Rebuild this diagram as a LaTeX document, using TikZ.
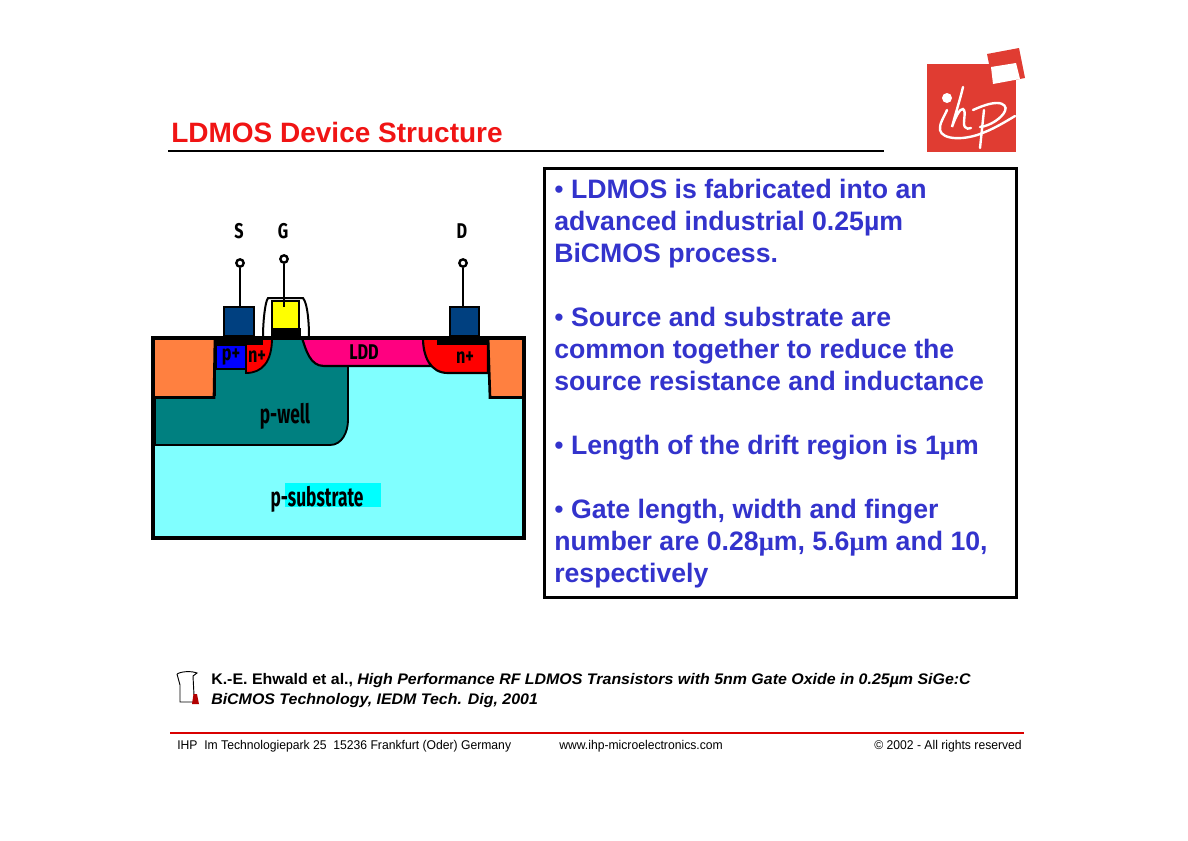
\documentclass[tikz,border=0pt]{standalone}
\usepackage{fontspec}
\setmainfont{Liberation Sans}
\newfontfamily\symbfont{Liberation Serif}
\newfontfamily\devfont{Fira Sans}
\usepackage{xcolor}
\usetikzlibrary{calc}

\definecolor{ihpred}{RGB}{224,60,50}
\definecolor{titlered}{RGB}{240,20,20}
\definecolor{bodyblue}{RGB}{51,51,204}
\definecolor{subcyan}{RGB}{128,255,255}
\definecolor{hotcyan}{RGB}{0,255,255}
\definecolor{wellteal}{RGB}{0,128,128}
\definecolor{oxorange}{RGB}{255,128,64}
\definecolor{lddpink}{RGB}{255,0,128}
\definecolor{metalblue}{RGB}{0,64,128}
\definecolor{gateyellow}{RGB}{255,255,0}

\newcommand{\umu}{{\symbfont\bfseries μ}}
\newcommand{\bul}{{\mdseries •}}

\tikzset{
  txt/.style={inner sep=0pt, anchor=base west},
  devlabel/.style={inner sep=0pt, font=\devfont\bfseries\fontsize{16}{16}\selectfont, xscale=0.76, transform shape},
  biglabel/.style={inner sep=0pt, font=\devfont\bfseries\fontsize{20}{20}\selectfont, xscale=0.65, transform shape},
  termlabel/.style={inner sep=0pt, font=\devfont\bfseries\fontsize{16}{16}\selectfont, xscale=0.76, transform shape},
  footer/.style={txt, font=\fontsize{9.5}{11}\selectfont, xscale=0.96, transform shape},
  term/.style={circle, fill=white, draw=black, line width=1.8pt, inner sep=0pt, minimum size=5.5pt},
  logopen/.style={white, line width=1.8pt, line cap=round}
}

\begin{document}
\begin{tikzpicture}[x=0.75pt, y=-0.75pt]
  \useasboundingbox (0, 0) rectangle (1188, 840);

  % title
  \node[txt, text=titlered, font=\bfseries\fontsize{21}{24}\selectfont] (title) at (171, 142) {LDMOS Device Structure};
  \draw[black, line width=1.5pt] (168, 150.5) -- (884, 150.5);

  % logo
  \fill[ihpred] (927, 64) rectangle (1016, 152);
  \fill[ihpred] (987, 54) -- (1019, 48) -- (1025, 78) -- (993, 84) -- cycle;
  \fill[white] (991, 67) -- (1016, 63) -- (1020, 79) -- (993, 84) -- cycle;
  \fill[white] (947, 98) circle (5);
  \draw[logopen] (947, 110) .. controls (944, 117) and (939, 124) .. (940, 130) .. controls (942, 140) and (965, 141) .. (985, 132) .. controls (995, 128) and (1005, 122) .. (1015, 116);
  \draw[logopen] (963, 87) .. controls (960, 100) and (955, 115) .. (952, 127) .. controls (955, 118) and (960, 108) .. (963, 109) .. controls (967, 111) and (962, 124) .. (965, 127) .. controls (966, 129) and (969, 129) .. (971, 128);
  \draw[logopen] (984, 110) -- (980, 148);
  \draw[logopen] (973, 110) .. controls (982, 106) and (990, 103) .. (997, 103) .. controls (1004, 103) and (1007, 107) .. (1005, 111) .. controls (1002, 118) and (990, 126) .. (980, 127);

  % device: substrate and well
  \fill[subcyan] (153, 338) rectangle (524, 538);
  \fill[hotcyan] (285, 483) rectangle (381, 507);
  \draw[black, line width=1.4pt, fill=wellteal] (155, 395) -- (155, 445) -- (330, 445) .. controls (342, 445) and (348, 432) .. (348, 420) -- (348, 338) -- (215, 338) -- (215, 395) -- cycle;

  % oxide blocks
  \draw[black, line width=2pt, fill=oxorange] (153, 338) -- (215, 338) -- (214, 397.5) -- (153, 397.5) -- cycle;
  \draw[black, line width=2pt, fill=oxorange] (524, 338) -- (488, 338) -- (490, 397.5) -- (524, 397.5) -- cycle;

  % implants
  \draw[black, line width=1.6pt, fill=lddpink] (302, 338) .. controls (306, 350) and (310, 366) .. (324, 366) -- (430, 366) -- (430, 338) -- cycle;
  \draw[black, line width=1.6pt, fill=red] (423, 338) .. controls (423, 356) and (430, 373) .. (448, 373) -- (488, 373) -- (488, 338) -- cycle;
  \draw[black, line width=1.4pt, fill=blue] (216, 345) rectangle (246, 369);
  \draw[black, line width=1.4pt, fill=red] (246, 338) -- (246, 373) .. controls (262, 373) and (272, 362) .. (272, 338) -- cycle;

  % outer frame and contacts
  \draw[black, line width=3pt] (153, 338) rectangle (524, 538);
  \fill[black] (216, 338) rectangle (263, 345);
  \fill[black] (437, 338) rectangle (488, 345);
  \draw[black, line width=1.4pt, fill=metalblue] (224, 307) rectangle (254, 336);
  \draw[black, line width=1.4pt, fill=metalblue] (450, 307) rectangle (479, 336);

  % gate
  \draw[black, line width=1.5pt] (263, 337) .. controls (263, 322) and (265, 302) .. (268, 298) -- (303, 298) .. controls (308, 304) and (309, 325) .. (309, 337);
  \fill[black] (271, 328) rectangle (301, 338);
  \draw[black, line width=1.2pt, fill=gateyellow] (272, 301) rectangle (299, 329);

  % terminals
  \node[term] (sterm) at (240, 263) {};
  \node[term] (gterm) at (284, 259) {};
  \node[term] (dterm) at (463, 263) {};
  \coordinate (scontact) at (240, 307);
  \coordinate (gcontact) at (284, 307);
  \coordinate (dcontact) at (463, 307);
  \draw[black, line width=1.5pt] (sterm) -- (scontact);
  \draw[black, line width=1.5pt] (gterm) -- (gcontact);
  \draw[black, line width=1.5pt] (dterm) -- (dcontact);

  \node[termlabel] (slabel) at (239, 231) {S};
  \node[termlabel] (glabel) at (283, 231) {G};
  \node[termlabel] (dlabel) at (462, 231) {D};
  \node[devlabel] (pplus) at (231, 357) {p+};
  \node[devlabel] (nplusa) at (257, 357) {n+};
  \node[devlabel] (nplusb) at (465, 358) {n+};
  \node[devlabel] (ldd) at (364, 352) {LDD};
  \node[biglabel] (pwell) at (285, 416) {p-well};
  \node[biglabel] (psub) at (317, 499) {p-substrate};

  % text box
  \draw[black, line width=2.2pt] (544.5, 168.5) rectangle (1016.5, 597.5);
  \node[txt, anchor=north west, align=left, text=bodyblue, font=\bfseries\fontsize{20}{24}\selectfont] (body) at (554, 179) {%
    \bul{} LDMOS is fabricated into an\\
    advanced industrial 0.25µm\\
    BiCMOS process.\\[24pt]
    \bul{} Source and substrate are\\
    common together to reduce the\\
    source resistance and inductance\\[24pt]
    \bul{} Length of the drift region is 1\umu m\\[24pt]
    \bul{} Gate length, width and finger\\
    number are 0.28\umu m, 5.6\umu m and 10,\\
    respectively};

  % reference
  \draw[black, line width=0.7pt] (177, 674) .. controls (182, 671) and (192, 671) .. (197, 673) -- (193, 676) -- (194, 695) (193, 702) -- (180, 702) -- (180, 685) -- (177, 674);
  \fill[red!70!black] (193.5, 694) -- (197, 694) -- (199, 704) -- (192, 704) -- cycle;
  \node[txt, align=left, font=\bfseries\fontsize{11.5}{15}\selectfont, xscale=1.04, transform shape] (cite) at (211, 704) {K.-E. Ehwald et al., \textit{High Performance RF LDMOS Transistors with 5nm Gate Oxide in 0.25µm SiGe:C}\\
    \textit{BiCMOS Technology, IEDM Tech. Dig, 2001}};

  % footer
  \draw[red!85!black, line width=1.5pt] (170, 733) -- (1024, 733);
  \node[footer] (addr) at (177, 749) {IHP\ \ Im Technologiepark 25\ \ 15236 Frankfurt (Oder) Germany};
  \node[footer] (web) at (559, 749) {www.ihp-microelectronics.com};
  \node[footer] (copy) at (874, 749) {© 2002 - All rights reserved};
\end{tikzpicture}
\end{document}
